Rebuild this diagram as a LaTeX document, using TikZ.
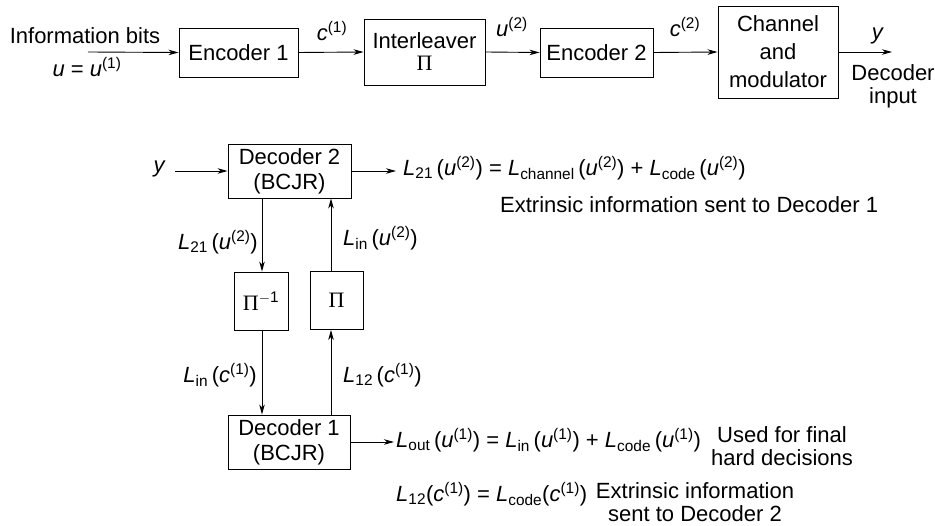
\documentclass[tikz,border=0pt]{standalone}
\usepackage{fontspec}
\setmainfont{Liberation Sans}
\newfontfamily\pifont{Liberation Serif}
\usetikzlibrary{arrows.meta}
\newcommand{\vv}[1]{\textit{#1}}
\newcommand{\mysb}[1]{\textsubscript{#1}}
\newcommand{\mysp}[1]{\textsuperscript{#1}}
\newcommand{\PI}{{\pifont\char"03A0}}
\tikzset{
  blk/.style={draw, line width=0.9pt, inner sep=0pt, align=center, font=\fontsize{22}{25}\selectfont},
  lbl/.style={inner sep=0pt, align=center, font=\fontsize{22}{23}\selectfont},
  arr/.style={line width=0.9pt, -{Stealth[length=10pt,width=5.5pt,inset=3pt]}},
}
\begin{document}
\begin{tikzpicture}[x=1pt,y=-1pt]
\useasboundingbox (0,0) rectangle (935,526);
% top row
\node[blk, minimum width=119pt, minimum height=49pt] (enc1) at (238.5,52.5) {Encoder 1};
\node[blk, minimum width=121pt, minimum height=66pt] (intl) at (424.5,52) {Interleaver\\[-3pt]\PI};
\node[blk, minimum width=113pt, minimum height=49pt] (enc2) at (596.5,52.5) {Encoder 2};
\node[blk, minimum width=120pt, minimum height=92pt] (chan) at (778,52) {Channel\\[3pt]and\\[3pt]modulator};
\coordinate (src) at (88,52);
\coordinate (out) at (892,52);
\draw[arr] (src) -- (enc1.west);
\draw[arr] (enc1.east) -- (intl.west);
\draw[arr] (intl.east) -- (enc2.west);
\draw[arr] (enc2.east) -- (chan.west);
\draw[arr] (chan.east) -- (out);
\node[lbl] (info) at (85,36) {Information bits};
\node[lbl] (uu) at (87,67) {\vv{u} = \vv{u}\mysp{(1)}};
\node[lbl] (c1) at (332,31) {\vv{c}\mysp{(1)}};
\node[lbl] (u2) at (512,27) {\vv{u}\mysp{(2)}};
\node[lbl] (c2) at (685,27) {\vv{c}\mysp{(2)}};
\node[lbl] (yt) at (878,36) {\vv{y}};
\node[lbl] (decin) at (893,86) {Decoder\\input};
% decoders
\node[blk, minimum width=123pt, minimum height=54pt] (dec2) at (289.5,171) {Decoder 2\\(BCJR)};
\node[blk, minimum width=54pt, minimum height=58pt] (pinv) at (261,301) {\PI\mysp{$-$1}};
\node[blk, minimum width=53pt, minimum height=58pt] (pi) at (336.5,300.5) {\PI};
\node[blk, minimum width=122pt, minimum height=54pt] (dec1) at (289,442) {Decoder 1\\(BCJR)};
\coordinate (lx) at (262,0);
\coordinate (rx) at (331,0);
\coordinate (yin) at (175,171);
\coordinate (d2out) at (396,171);
\coordinate (d1out) at (394,442);
\draw[arr] (yin) -- (dec2.west);
\draw[arr] (dec2.east) -- (d2out);
\draw[arr] (dec1.east) -- (d1out);
\draw[arr] (dec2.south -| lx) -- (pinv.north -| lx);
\draw[arr] (pinv.south -| lx) -- (dec1.north -| lx);
\draw[arr] (dec1.north -| rx) -- (pi.south -| rx);
\draw[arr] (pi.north -| rx) -- (dec2.south -| rx);
\node[lbl, anchor=east] (yb) at (166,169) {\vv{y}};
\node[lbl, anchor=east] (l21a) at (258,242) {\vv{L}\mysb{21}\,(\vv{u}\mysp{(2)})};
\node[lbl, anchor=west] (lina) at (343,238) {\vv{L}\mysb{in}\,(\vv{u}\mysp{(2)})};
\node[lbl, anchor=east] (linc) at (257,375) {\vv{L}\mysb{in}\,(\vv{c}\mysp{(1)})};
\node[lbl, anchor=west] (l12c) at (343,375) {\vv{L}\mysb{12}\,(\vv{c}\mysp{(1)})};
\node[lbl, anchor=west] (f1) at (403,168) {\vv{L}\mysb{21}\,(\vv{u}\mysp{(2)}) = \vv{L}\mysb{channel}\,(\vv{u}\mysp{(2)}) + \vv{L}\mysb{code}\,(\vv{u}\mysp{(2)})};
\node[lbl, anchor=west] (e1) at (500,205) {Extrinsic information sent to Decoder 1};
\node[lbl, anchor=west] (f2) at (396,440) {\vv{L}\mysb{out}\,(\vv{u}\mysp{(1)}) = \vv{L}\mysb{in}\,(\vv{u}\mysp{(1)}) + \vv{L}\mysb{code}\,(\vv{u}\mysp{(1)})};
\node[lbl] (used) at (782,446) {Used for final\\hard decisions};
\node[lbl] (f3) [anchor=west] at (396,494) {\vv{L}\mysb{12}(\vv{c}\mysp{(1)}) = \vv{L}\mysb{code}(\vv{c}\mysp{(1)})};
\node[lbl] (e2) at (695,502) {Extrinsic information\\sent to Decoder 2};
\end{tikzpicture}
\end{document}
